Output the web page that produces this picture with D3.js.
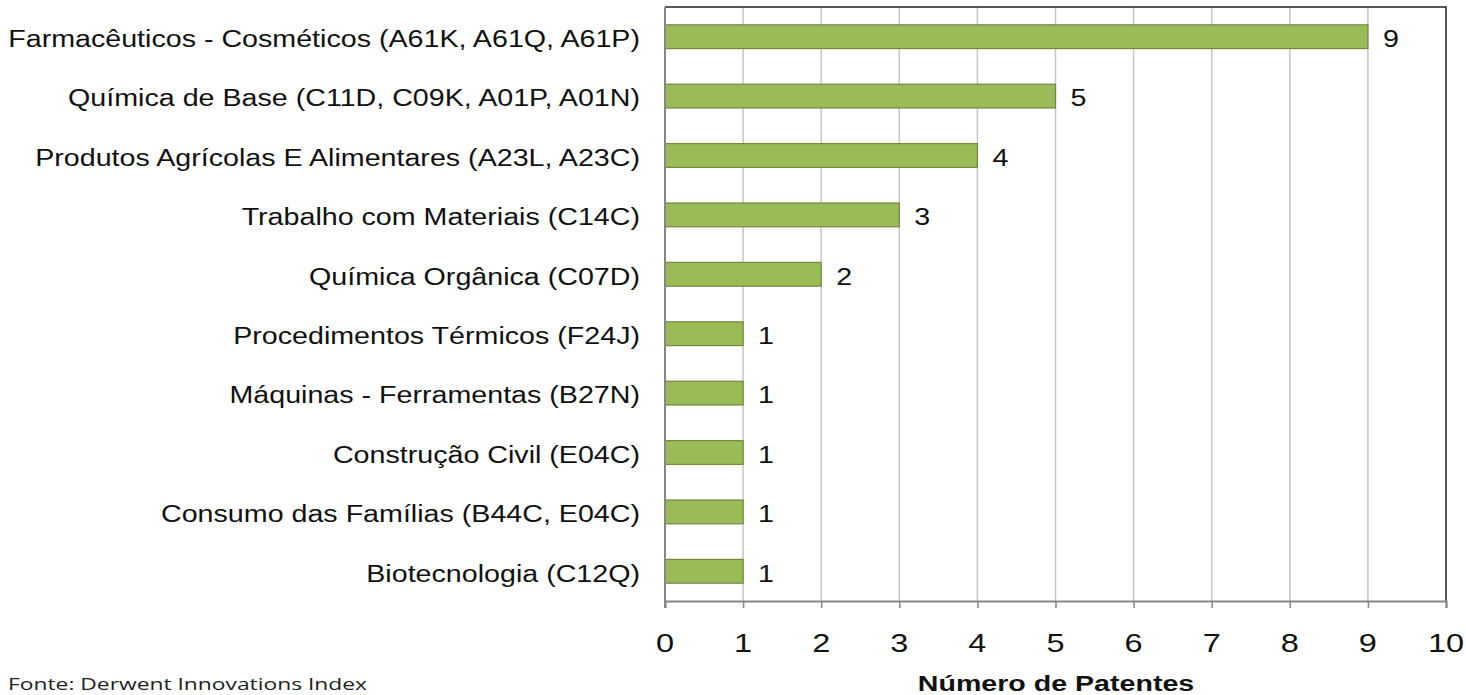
<!DOCTYPE html>
<html><head><meta charset="utf-8">
<script src="https://cdn.jsdelivr.net/npm/d3@7"></script>
<style>body{margin:0;background:#fff}svg{display:block}</style>
</head><body><svg id="c" width="1466" height="695"></svg>
<script>
const categories = [
 "Farmacêuticos - Cosméticos (A61K, A61Q, A61P)",
 "Química de Base (C11D, C09K, A01P, A01N)",
 "Produtos Agrícolas E Alimentares (A23L, A23C)",
 "Trabalho com Materiais (C14C)",
 "Química Orgânica (C07D)",
 "Procedimentos Térmicos (F24J)",
 "Máquinas - Ferramentas (B27N)",
 "Construção Civil (E04C)",
 "Consumo das Famílias (B44C, E04C)",
 "Biotecnologia (C12Q)"
];
const values = [9,5,4,3,2,1,1,1,1,1];
const xTicks = [0,1,2,3,4,5,6,7,8,9,10];
const xTitle = "Número de Patentes";
const source = "Fonte: Derwent Innovations Index";

const svg = d3.select("#c");
const L=665, R=1446, T=7, B=601;
const x = d3.scaleLinear().domain([0,10]).range([L,R]);
const y = d3.scaleBand().domain(categories).range([T,B]).paddingInner(0.6).paddingOuter(0.3);
const font = "'Liberation Sans', Arial, sans-serif";
const SX = 1.245;

// gridlines
svg.append("g").selectAll("line").data(xTicks.slice(1,-1)).join("line")
  .attr("x1",d=>x(d)).attr("x2",d=>x(d)).attr("y1",T).attr("y2",B)
  .attr("stroke","#c6c6c6").attr("stroke-width",1.5);

// border top/right
svg.append("path").attr("d",`M${L},${T}H${R}V${B}`).attr("fill","none").attr("stroke","#222").attr("stroke-width",1.5);

// bars
svg.append("g").selectAll("rect").data(values).join("rect")
  .attr("x",x(0)).attr("y",(d,i)=>y(categories[i]))
  .attr("width",d=>x(d)-x(0)).attr("height",y.bandwidth())
  .attr("fill","#9bbb59").attr("stroke","#71893f").attr("stroke-width",1.2);

// value labels
svg.append("g").selectAll("text").data(values).join("text")
  .attr("transform",(d,i)=>`translate(${x(d)+15},${y(categories[i])+y.bandwidth()/2+2}) scale(${SX},1)`)
  .attr("dy","0.36em").attr("font-family",font).attr("font-size",23).attr("fill","#111")
  .text(d=>d);

// category labels
svg.append("g").selectAll("text").data(categories).join("text")
  .attr("transform",d=>`translate(640,${y(d)+y.bandwidth()/2+2}) scale(${SX},1)`)
  .attr("dy","0.36em")
  .attr("text-anchor","end").attr("font-family",font).attr("font-size",23).attr("fill","#111")
  .text(d=>d);

// x axis (ticks and domain)
const xa = svg.append("g").attr("transform",`translate(0,${B})`)
  .call(d3.axisBottom(x).tickValues(xTicks).tickSize(7).tickFormat(""));
xa.select(".domain").attr("stroke","#868686").attr("stroke-width",2);
xa.selectAll(".tick line").attr("stroke","#868686").attr("stroke-width",1.5);

// tick labels
svg.append("g").selectAll("text").data(xTicks).join("text")
  .attr("transform",d=>`translate(${x(d)},652) scale(1.3,1)`)
  .attr("text-anchor","middle").attr("font-family",font).attr("font-size",25).attr("fill","#111")
  .text(d=>d);

// left axis line
svg.append("line").attr("x1",L).attr("x2",L).attr("y1",T).attr("y2",B+7)
  .attr("stroke","#868686").attr("stroke-width",2);

// axis title
svg.append("text").attr("transform","translate(1056,691) scale(1.3,1)").attr("text-anchor","middle")
  .attr("font-family",font).attr("font-size",22).attr("font-weight","bold").attr("fill","#111")
  .text(xTitle);

// source
svg.append("text").attr("x",8).attr("y",690).attr("font-family","'Open Sans', sans-serif")
  .attr("font-size",16).attr("fill","#222").attr("textLength",359).attr("lengthAdjust","spacingAndGlyphs")
  .text(source);
</script></body></html>
